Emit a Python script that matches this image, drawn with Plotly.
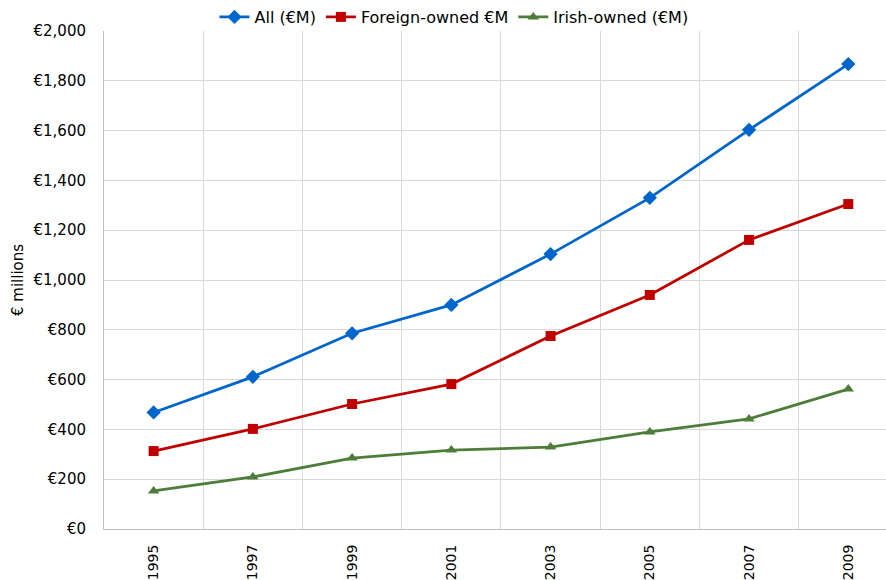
import plotly.graph_objects as go

# Annual spend by ownership, € millions
years = ["1995", "1997", "1999", "2001", "2003", "2005", "2007", "2009"]
all_total = [468, 611, 786, 900, 1104, 1330, 1603, 1867]
foreign_owned = [313, 402, 502, 582, 775, 940, 1161, 1305]
irish_owned = [153, 209, 285, 317, 329, 390, 442, 562]

series = [
    ("All (€M)", all_total, "#0066CC", "diamond", 11),
    ("Foreign-owned €M", foreign_owned, "#C00000", "square", 10),
    ("Irish-owned (€M)", irish_owned, "#4E7D3A", "triangle-up", 10),
]

font_family = "DejaVu Sans"

fig = go.Figure()
for name, values, color, symbol, size in series:
    fig.add_trace(go.Scatter(
        x=years, y=values, name=name, mode="lines+markers",
        line=dict(color=color, width=2.75),
        marker=dict(symbol=symbol, size=size, color=color),
    ))

fig.update_layout(
    width=886, height=580,
    margin=dict(l=104, r=0, t=31, b=51, autoexpand=False),
    paper_bgcolor="white", plot_bgcolor="white",
    font=dict(family=font_family, size=15, color="#000000"),
    showlegend=True,
    legend=dict(
        orientation="h", xref="container", x=454 / 886, xanchor="center",
        yref="container", y=1 - 17 / 580, yanchor="middle",
        font=dict(size=16), itemwidth=30,
        bgcolor="rgba(0,0,0,0)",
    ),
)

fig.update_xaxes(
    type="category", range=[-0.5, 7.38],
    tickson="boundaries", ticks="", tickangle=-90,
    ticklabelstandoff=9,
    showgrid=True, gridcolor="#D9D9D9", gridwidth=1,
    showline=True, linecolor="#BFBFBF", linewidth=1,
    tickfont=dict(size=14), fixedrange=True,
)
fig.update_yaxes(
    range=[0, 2000], dtick=200, tickprefix="€", tickformat=",",
    showgrid=True, gridcolor="#D9D9D9", gridwidth=1,
    showline=True, linecolor="#BFBFBF", linewidth=1,
    zeroline=False, ticks="", ticklen=0,
    ticklabelstandoff=14,
    tickfont=dict(size=15),
    title=dict(text="€ millions", font=dict(size=15), standoff=6),
)

fig.write_html("out.html")
